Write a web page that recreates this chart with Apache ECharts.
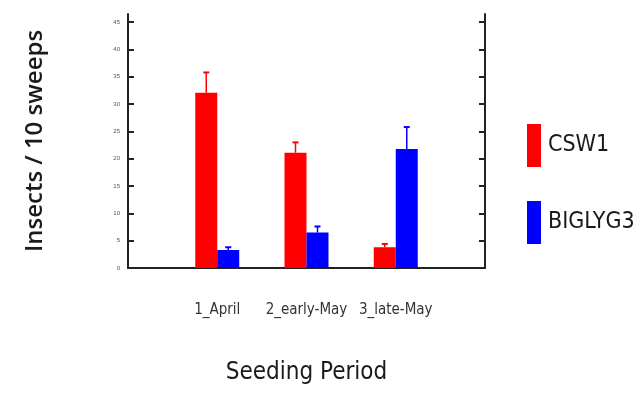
<!DOCTYPE html>
<html>
<head>
<meta charset="utf-8">
<script src="https://cdn.jsdelivr.net/npm/echarts@6/dist/echarts.min.js"></script>
<style>
html,body{margin:0;padding:0;background:#fff;}
#chart{width:642px;height:411px;}
</style>
</head>
<body>
<div id="chart"></div>
<script>
// Data
var categories = ['', '1_April', '2_early-May', '3_late-May', ''];
var seriesNames = ['CSW1', 'BIGLYG3'];
var csw1 = ['-', 32.1, 21.1, 3.8, '-'];
var biglyg3 = ['-', 3.3, 6.5, 21.8, '-'];
var csw1ErrTop = ['-', 35.8, 23.0, 4.4, '-'];
var biglyg3ErrTop = ['-', 3.8, 7.6, 25.8, '-'];
var yTicks = [0, 5, 10, 15, 20, 25, 30, 35, 40, 45];

var RED = '#ff0000', BLUE = '#0000ff';
var NARROW = "'Liberation Sans Narrow', 'DejaVu Sans Condensed', 'Liberation Sans', sans-serif";
var BAR_W = 22;

function errData(vals, tops) {
  var out = [];
  for (var i = 0; i < vals.length; i++) {
    if (vals[i] !== '-') out.push([i, vals[i], tops[i]]);
  }
  return out;
}

function errRenderer(offset, color) {
  return function (params, api) {
    var base = api.coord([api.value(0), api.value(1)]);
    var top = api.coord([api.value(0), api.value(2)]);
    var x = base[0] + offset;
    return {
      type: 'group',
      children: [
        { type: 'line', shape: { x1: x, y1: base[1], x2: x, y2: top[1] },
          style: { stroke: color, lineWidth: 1.5 } },
        { type: 'line', shape: { x1: x - 3, y1: top[1], x2: x + 3, y2: top[1] },
          style: { stroke: color, lineWidth: 2 } }
      ]
    };
  };
}

var chart = echarts.init(document.getElementById('chart'));
chart.setOption({
  animation: false,
  backgroundColor: '#fff',
  grid: { left: 128, right: 157, top: 14, bottom: 143, containLabel: false },
  legend: {
    orient: 'vertical',
    left: 522, top: 119,
    itemWidth: 14, itemHeight: 43, itemGap: 34,
    icon: 'rect',
    data: seriesNames,
    textStyle: { fontFamily: NARROW, fontSize: 23, color: '#1a1a1a', padding: [0, 0, 0, 2] }
  },
  xAxis: {
    type: 'category',
    data: categories,
    boundaryGap: false,
    axisLine: { lineStyle: { color: '#222', width: 2 } },
    axisTick: { show: false },
    axisLabel: { fontFamily: NARROW, fontSize: 15, color: '#333', margin: 35, interval: 0 },
    name: 'Seeding Period',
    nameLocation: 'middle',
    nameGap: 93,
    nameTextStyle: { fontFamily: NARROW, fontSize: 24, color: '#1a1a1a' }
  },
  yAxis: [{
    type: 'value', min: 0, max: 46.5,
    position: 'left',
    splitLine: { show: false },
    axisLine: { show: true, lineStyle: { color: '#222', width: 2 } },
    axisTick: { show: true, inside: true, length: 6, lineStyle: { width: 2, color: '#222' }, customValues: yTicks },
    axisLabel: { fontSize: 6, color: '#555', margin: 8, customValues: yTicks },
    name: 'Insects / 10 sweeps',
    nameLocation: 'middle',
    nameGap: 81,
    nameRotate: 90,
    nameTextStyle: { fontFamily: "'Open Sans', 'Noto Sans', sans-serif", fontWeight: 600, fontSize: 24, color: '#1a1a1a' }
  }, {
    type: 'value', min: 0, max: 46.5,
    position: 'right',
    splitLine: { show: false },
    axisLine: { show: true, lineStyle: { color: '#222', width: 2 } },
    axisTick: { show: true, inside: true, length: 6, lineStyle: { width: 2, color: '#222' }, customValues: yTicks },
    axisLabel: { show: false }
  }],
  series: [
    { name: 'CSW1', type: 'bar', data: csw1, barWidth: BAR_W, barGap: '0%',
      itemStyle: { color: RED } },
    { name: 'BIGLYG3', type: 'bar', data: biglyg3, barWidth: BAR_W, barGap: '0%',
      itemStyle: { color: BLUE } },
    { name: 'CSW1', type: 'custom', data: errData(csw1, csw1ErrTop),
      encode: { x: 0, y: [1, 2] }, renderItem: errRenderer(-BAR_W / 2, RED), z: 3 },
    { name: 'BIGLYG3', type: 'custom', data: errData(biglyg3, biglyg3ErrTop),
      encode: { x: 0, y: [1, 2] }, renderItem: errRenderer(BAR_W / 2, BLUE), z: 3 }
  ]
});
</script>
</body>
</html>
